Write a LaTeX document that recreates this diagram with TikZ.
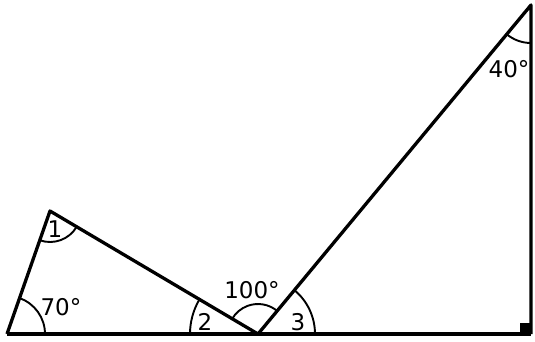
\documentclass[tikz,border=0pt]{standalone}
\usepackage{fontspec}
\setmainfont{DejaVu Sans}
\begin{document}
\begin{tikzpicture}[x=1pt,y=-1pt,
  edge/.style={line width=3.3pt,line join=round},
  arcline/.style={line width=1.9pt},
  lbl/.style={font=\fontsize{23}{26}\selectfont,inner sep=0pt}]
\useasboundingbox (0,0) rectangle (535,341);
\coordinate (A) at (7,334);
\coordinate (B) at (50,211);
\coordinate (C) at (258,334);
\coordinate (D) at (531,5);
\coordinate (E) at (531,334);
% arcs (canvas angles, counterclockwise on screen)
\draw[arcline] ([shift={(0:38pt)}]A) arc[start angle=0,end angle=70.7,radius=38pt];
\draw[arcline] ([shift={(-109.3:31pt)}]B) arc[start angle=-109.3,end angle=-30.6,radius=31pt];
\draw[arcline] ([shift={(149.4:68pt)}]C) arc[start angle=149.4,end angle=180,radius=68pt];
\draw[arcline] ([shift={(50.3:30pt)}]C) arc[start angle=50.3,end angle=149.4,radius=30pt];
\draw[arcline] ([shift={(0:57pt)}]C) arc[start angle=0,end angle=50.3,radius=57pt];
\draw[arcline] ([shift={(230.3:38pt)}]D) arc[start angle=230.3,end angle=270,radius=38pt];
% lines
\draw[edge] (A) -- (B) -- (C);
\draw[edge] (C) -- (D) -- (E);
\draw[edge] (A) -- (E);
\fill ([xshift=-11pt]E) rectangle ([yshift=11pt]E);
% labels
\node[lbl] (l1) at (55,229) {1};
\node[lbl] (l70) at (61,307) {70°};
\node[lbl] (l2) at (205,322) {2};
\node[lbl] (l100) at (252,290) {100°};
\node[lbl] (l3) at (298,322) {3};
\node[lbl] (l40) at (509,69) {40°};
\end{tikzpicture}
\end{document}
